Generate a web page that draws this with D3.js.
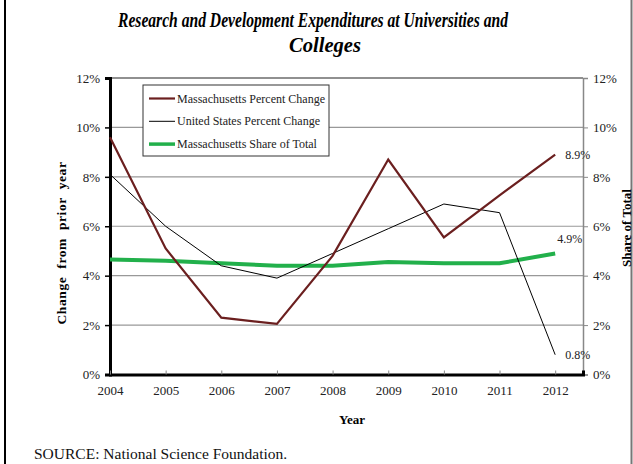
<!DOCTYPE html>
<html><head><meta charset="utf-8">
<script src="https://cdn.jsdelivr.net/npm/d3@7"></script>
<style>
body{margin:0;background:#fff;}
svg{display:block;font-family:"Liberation Serif","Times New Roman",serif;}
</style></head>
<body><svg id="c" width="633" height="464"></svg>
<script>
const years = [2004,2005,2006,2007,2008,2009,2010,2011,2012];
const maChange = [9.6,5.1,2.3,2.05,4.8,8.7,5.55,7.25,8.9];
const usChange = [8.1,6.0,4.4,3.9,4.9,5.9,6.9,6.55,0.8];
const maShare = [4.65,4.6,4.5,4.4,4.4,4.55,4.5,4.5,4.9];
const yTicks = [0,2,4,6,8,10,12];
const seriesNames = ["Massachusetts Percent Change","United States Percent Change","Massachusetts Share of Total"];
const seriesColors = ["#6b1f1f","#000000","#22b04b"];
const seriesWidths = [2.2,1,4];

const svg = d3.select("#c");
const L=110, R=583, T=78, B=374.5;
const x = d3.scaleLinear().domain([2004,2012.5]).range([L,R]);
const y = d3.scaleLinear().domain([0,12]).range([B,T]);

// outer border lines
svg.append("line").attr("x1",5).attr("x2",5).attr("y1",0).attr("y2",464).attr("stroke","#000").attr("stroke-width",2);
svg.append("line").attr("x1",631.5).attr("x2",631.5).attr("y1",0).attr("y2",464).attr("stroke","#777").attr("stroke-width",2);

// title
const title = svg.append("text").attr("text-anchor","middle").attr("font-weight","bold").attr("font-style","italic").attr("font-size",20);
title.append("tspan").attr("x",313).attr("y",27).attr("textLength",390).attr("lengthAdjust","spacingAndGlyphs").text("Research and Development Expenditures at Universities and");
title.append("tspan").attr("x",325).attr("y",52).attr("textLength",72).attr("lengthAdjust","spacingAndGlyphs").text("Colleges");

// gridlines
svg.append("g").selectAll("line").data(yTicks.filter(d=>d>0 && d<12)).join("line")
  .attr("x1",L).attr("x2",R).attr("y1",d=>y(d)).attr("y2",d=>y(d))
  .attr("stroke","#999").attr("stroke-width",1.2);
// top line
svg.append("line").attr("x1",L).attr("x2",R).attr("y1",y(12)).attr("y2",y(12)).attr("stroke","#222").attr("stroke-width",1.2);

// right axis
const rAxis = svg.append("g").attr("transform",`translate(${R},0)`)
  .call(d3.axisRight(y).tickValues(yTicks).tickFormat(d=>d+"%").tickSize(5).tickPadding(5));
rAxis.select(".domain").attr("stroke","#888").attr("stroke-width",1.5);
rAxis.selectAll(".tick line").attr("stroke","#888");
rAxis.selectAll("text").attr("font-size",13).attr("fill","#222").attr("font-family","Liberation Serif");

// left axis
const lAxis = svg.append("g").attr("transform",`translate(${L},0)`)
  .call(d3.axisLeft(y).tickValues(yTicks).tickFormat(d=>d+"%").tickSize(5).tickPadding(5));
lAxis.select(".domain").attr("stroke","#000").attr("stroke-width",3);
lAxis.selectAll(".tick line").attr("stroke","#000").attr("stroke-width",1.5);
lAxis.selectAll("text").attr("font-size",13).attr("fill","#222").attr("font-family","Liberation Serif");

// bottom axis
const bAxis = svg.append("g").attr("transform",`translate(0,${B})`)
  .call(d3.axisBottom(x).tickValues(years).tickFormat(d3.format("d")).tickSize(-4).tickPadding(11));
bAxis.select(".domain").attr("stroke","#000").attr("stroke-width",3);
bAxis.selectAll(".tick line").attr("stroke","#888");
bAxis.selectAll("text").attr("font-size",13).attr("fill","#222").attr("font-family","Liberation Serif");

// axis titles
svg.append("text").attr("transform",`translate(66,243) rotate(-90)`).attr("text-anchor","middle")
  .attr("font-weight","bold").attr("font-size",13.5).attr("letter-spacing",0.6).attr("word-spacing",4).text("Change from prior year");
svg.append("text").attr("transform",`translate(631,228) rotate(-90)`).attr("text-anchor","middle")
  .attr("font-weight","bold").attr("font-size",13).text("Share of Total");
svg.append("text").attr("x",352).attr("y",424).attr("text-anchor","middle")
  .attr("font-weight","bold").attr("font-size",13).text("Year");

// lines
const dataSets = [maChange, usChange, maShare];
const line = d3.line().x((d,i)=>x(years[i])).y(d=>y(d));
[2,1,0].forEach(k=>{
  svg.append("path").datum(dataSets[k]).attr("d",line).attr("fill","none")
    .attr("stroke",seriesColors[k]).attr("stroke-width",seriesWidths[k]).attr("stroke-linejoin","miter");
});

// end labels
const last = years.length-1;
svg.append("text").attr("x",x(years[last])+10).attr("y",y(maChange[last])+4).attr("font-size",12).attr("fill","#222").text(maChange[last].toFixed(1)+"%");
svg.append("text").attr("x",x(years[last])+10).attr("y",y(usChange[last])+4).attr("font-size",12).attr("fill","#222").text(usChange[last].toFixed(1)+"%");
svg.append("text").attr("x",x(years[last])+2).attr("y",y(maShare[last])-10).attr("font-size",12).attr("fill","#222").text(maShare[last].toFixed(1)+"%");

// legend
const lg = svg.append("g");
lg.append("rect").attr("x",143).attr("y",85).attr("width",186).attr("height",71).attr("fill","#fff").attr("stroke","#333").attr("stroke-width",1);
seriesNames.forEach((n,i)=>{
  const yy = 98.5 + i*22.8;
  lg.append("line").attr("x1",149).attr("x2",175).attr("y1",yy).attr("y2",yy).attr("stroke",seriesColors[i]).attr("stroke-width",seriesWidths[i]===4?3.5:seriesWidths[i]);
  lg.append("text").attr("x",177).attr("y",yy+4).attr("font-size",12).attr("fill","#222").text(n);
});

// source
svg.append("text").attr("x",34).attr("y",459).attr("font-size",15.5).attr("fill","#111").text("SOURCE: National Science Foundation.");
</script></body></html>
